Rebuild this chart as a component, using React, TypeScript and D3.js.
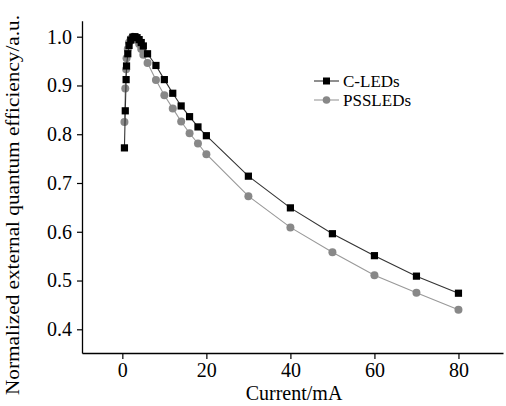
import React, { useEffect, useRef } from 'react';
import * as d3 from 'd3';

// current (mA) and normalized EQE
const currents = [0.5, 0.7, 0.9, 1.0, 1.3, 1.6, 2, 2.5, 3, 3.5, 4, 4.5, 5, 6, 8, 10, 12, 14, 16, 18, 20, 30, 40, 50, 60, 70, 80];
const cLeds = [0.772, 0.848, 0.912, 0.94, 0.965, 0.982, 0.993, 0.999, 1.0, 0.998, 0.994, 0.988, 0.981, 0.965, 0.941, 0.912, 0.884, 0.858, 0.836, 0.815, 0.797, 0.714, 0.649, 0.596, 0.551, 0.509, 0.474];
const pssLeds = [0.825, 0.894, 0.933, 0.956, 0.975, 0.988, 0.996, 1.0, 0.998, 0.993, 0.985, 0.975, 0.963, 0.946, 0.911, 0.88, 0.853, 0.826, 0.802, 0.781, 0.759, 0.673, 0.609, 0.558, 0.511, 0.475, 0.44];
const xTicks = [0, 20, 40, 60, 80];
const yTicks = [0.4, 0.5, 0.6, 0.7, 0.8, 0.9, 1.0];
const seriesNames = ['C-LEDs', 'PSSLEDs'];

export default function App() {
  const ref = useRef<SVGSVGElement>(null);

  useEffect(() => {
    const width = 506;
    const height = 406;
    const svg = d3.select(ref.current);
    svg.selectAll('*').remove();
    svg.attr('width', width).attr('height', height);

    const font = '"Liberation Serif", "Times New Roman", serif';
    const x = d3.scaleLinear().domain([-9.6, 90.6]).range([82, 503]);
    const y = d3.scaleLinear().domain([0.3514, 1.0328]).range([353, 20.7]);

    svg.append('rect').attr('width', width).attr('height', height).attr('fill', '#fff');

    // axes
    const xAxis = svg.append('g')
      .attr('transform', `translate(0,${y.range()[0]})`)
      .call(d3.axisBottom(x).tickValues(xTicks).tickSize(6).tickSizeOuter(0).tickPadding(4));
    const yAxis = svg.append('g')
      .attr('transform', `translate(${x.range()[0]},0)`)
      .call(d3.axisLeft(y).tickValues(yTicks).tickSize(5).tickSizeOuter(0).tickPadding(5)
        .tickFormat(d3.format('.1f')));

    [xAxis, yAxis].forEach(a => {
      a.select('.domain').attr('stroke', '#000').attr('stroke-width', 1.3);
      a.selectAll('.tick line').attr('stroke', '#000').attr('stroke-width', 1.2);
      a.selectAll('.tick text').attr('fill', '#000').style('font-family', font).style('font-size', '20px');
    });

    svg.append('text')
      .attr('x', 294).attr('y', 400)
      .attr('text-anchor', 'middle')
      .style('font-family', font).style('font-size', '20px')
      .text('Current/mA');

    svg.append('text')
      .attr('transform', 'translate(19,205) rotate(-90)')
      .attr('text-anchor', 'middle')
      .attr('textLength', 380)
      .attr('lengthAdjust', 'spacingAndGlyphs')
      .style('font-family', font).style('font-size', '19px')
      .text('Normalized external quantum efficiency/a.u.');

    const lineGen = (vals: number[]) => d3.line<number>()
      .x((_, i) => x(currents[i]))
      .y(d => y(d))(vals);

    // PSSLEDs
    svg.append('path').attr('d', lineGen(pssLeds)).attr('fill', 'none')
      .attr('stroke', '#999').attr('stroke-width', 1.1);
    svg.append('g').selectAll('circle').data(pssLeds).join('circle')
      .attr('cx', (_, i) => x(currents[i])).attr('cy', d => y(d))
      .attr('r', 4).attr('fill', '#888');

    // C-LEDs
    svg.append('path').attr('d', lineGen(cLeds)).attr('fill', 'none')
      .attr('stroke', '#333').attr('stroke-width', 1.1);
    svg.append('g').selectAll('rect').data(cLeds).join('rect')
      .attr('x', (_, i) => x(currents[i]) - 3.6).attr('y', d => y(d) - 3.6)
      .attr('width', 7.2).attr('height', 7.2).attr('fill', '#000');

    // legend
    const leg = svg.append('g');
    seriesNames.forEach((name, i) => {
      const ly = 81 + i * 19;
      leg.append('line').attr('x1', 314).attr('x2', 339).attr('y1', ly).attr('y2', ly)
        .attr('stroke', i === 0 ? '#333' : '#999').attr('stroke-width', 1.1);
      if (i === 0) {
        leg.append('rect').attr('x', 326.5 - 3.5).attr('y', ly - 3.5).attr('width', 7).attr('height', 7).attr('fill', '#000');
      } else {
        leg.append('circle').attr('cx', 326.5).attr('cy', ly).attr('r', 3.8).attr('fill', '#888');
      }
      leg.append('text').attr('x', 343).attr('y', ly + 6)
        .style('font-family', font).style('font-size', '17px')
        .text(name);
    });
  }, []);

  return (
    <svg ref={ref} style={{ position: 'absolute', left: 0, top: 0 }} />
  );
}
